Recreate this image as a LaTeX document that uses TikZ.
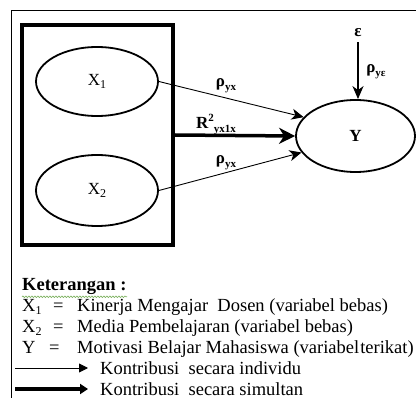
\documentclass[tikz,border=0pt]{standalone}
\usepackage{fontspec}
\setmainfont{Liberation Serif}
\usetikzlibrary{arrows.meta,decorations.pathmorphing,shapes.geometric}
\newcommand\mysub[1]{\raisebox{-0.18em}{\fontsize{12}{12}\selectfont #1}}
\newcommand\mysubb[1]{\raisebox{-0.25em}{\fontsize{11}{11}\selectfont\bfseries #1}}
\newcommand\mysupb[1]{\raisebox{0.4em}{\fontsize{11}{11}\selectfont\bfseries #1}}
\begin{document}
\begin{tikzpicture}[x=1pt,y=-1pt,
  varell/.style={draw,ellipse,line width=1.8pt,inner sep=0pt},
  lbl/.style={inner sep=0pt,font=\fontsize{17}{17}\selectfont\bfseries},
  thinarr/.style={line width=0.9pt,-{Stealth[length=12pt,width=11pt,inset=3.5pt]}},
  legtxt/.style={inner sep=0pt,anchor=base west,font=\fontsize{18.5}{21}\selectfont},
]
\useasboundingbox (0,0) rectangle (416,398);
% outer frame
\draw[line width=0.8pt] (11,420) -- (11,10) -- (430,10);
% inner box
\node[draw,line width=3.5pt,minimum width=151,minimum height=220,inner sep=0pt] (box) at (97.5,135) {};
\node[varell,minimum width=122,minimum height=69] (X1) at (97,81.5) {\fontsize{17}{17}\selectfont X\mysub{1}};
\node[varell,minimum width=122,minimum height=71] (X2) at (97,190.5) {\fontsize{17}{17}\selectfont X\mysub{2}};
\node[varell,minimum width=119,minimum height=72] (Y) at (355.5,136) {\fontsize{17}{17}\selectfont\bfseries Y};
\node[lbl] (eps) at (358,33) {ε};
% arrows
\draw[thinarr] (X1.east) -- (Y.160);
\draw[thinarr] (X2.east) -- (Y.197);
\draw[line width=3.5pt,-{Stealth[length=16pt,width=16pt,inset=5pt]}] (box.east) -- (Y.west);
\draw[line width=1.8pt,-{Stealth[length=13pt,width=11pt,inset=4pt]}] (eps.south) ++(0,5) coordinate (epstop) (epstop) -- (epstop |- Y.north);
% labels
\node[lbl] (l1) at (226,86) {ρ\mysubb{yx}};
\node[lbl] (l2) at (216,125) {R\mysupb{2}\mysubb{yx1x}};
\node[lbl] (l3) at (226,163) {ρ\mysubb{yx}};
\node[lbl] (l4) at (376,72) {ρ\mysubb{yε}};
% legend
\node[legtxt,font=\fontsize{18.5}{21}\selectfont\bfseries] (ket) at (22,290.5) {Keterangan :};
\draw[draw={rgb,255:red,120;green,175;blue,90},line width=0.6pt,decorate,decoration={snake,amplitude=0.8pt,segment length=3pt}] (ket.south west) ++(0,2) -- ++(105,0);
\node[legtxt] (k1) at (22,311.5) {X\mysub{1}};
\node[legtxt] (e1) at (53,311.5) {=};
\node[legtxt] (t1) at (77,311.5) {Kinerja Mengajar\ \ Dosen (variabel bebas)};
\node[legtxt] (k2) at (22,332.5) {X\mysub{2}};
\node[legtxt] (e2) at (53,332.5) {=};
\node[legtxt] (t2) at (77,332.5) {Media Pembelajaran (variabel bebas)};
\node[legtxt] (k3) at (22,354) {Y};
\node[legtxt] (e3) at (49,354) {=};
\node[legtxt] (t3) at (77,354) {Motivasi Belajar Mahasiswa (variabel\hspace{1pt}terikat)};
\coordinate (a1s) at (15,368);
\coordinate (a1e) at (88,368);
\draw[line width=0.9pt,-{Triangle[length=9pt,width=9pt]}] (a1s) -- (a1e);
\node[legtxt] (t4) at (100,374.5) {Kontribusi\ \ secara individu};
\coordinate (a2s) at (15,389);
\coordinate (a2e) at (88,389);
\draw[line width=3.2pt,-{Triangle[length=8pt,width=10pt]}] (a2s) -- (a2e);
\node[legtxt] (t5) at (100,395.5) {Kontribusi\ \ secara simultan};
\end{tikzpicture}
\end{document}
